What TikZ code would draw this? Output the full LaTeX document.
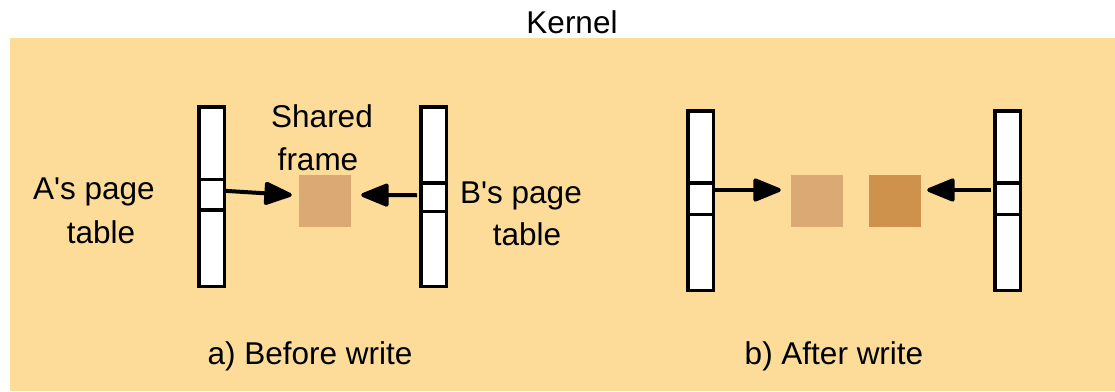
\documentclass[tikz,border=0pt]{standalone}
\usepackage{fontspec}
\setmainfont{Liberation Sans}
\usetikzlibrary{arrows.meta}
\definecolor{bgc}{RGB}{253,219,153}
\definecolor{framea}{RGB}{218,169,116}
\definecolor{frameb}{RGB}{206,146,76}
\tikzset{
  txt/.style={inner sep=0pt, anchor=base, font=\fontsize{31.5}{38}\selectfont},
  ptable/.style={draw=black, fill=white, line width=3.5pt, minimum width=25.5pt, minimum height=179.5pt, inner sep=0pt},
  pcell/.style={draw=black, line width=3.5pt, minimum width=25.5pt, inner sep=0pt},
  pframe/.style={minimum width=52pt, minimum height=52pt, inner sep=0pt},
  arr/.style={line width=4pt, -{Triangle[length=31pt,width=24pt,round]}}
}
\begin{document}
\begin{tikzpicture}[x=1pt,y=-1pt]
\useasboundingbox (0,0) rectangle (1115,391);
\fill[bgc] (10,38) rectangle (1115,391);
\node[txt] (kernel) at (572,33) {Kernel};
% a) before write
\node[ptable] (tabA) at (211.5,196.5) {};
\node[pcell, minimum height=30.5pt] (cellA) at (211.5,194.75) {};
\node[ptable] (tabB) at (433.5,196.5) {};
\node[pcell, minimum height=28.5pt] (cellB) at (433.5,197.25) {};
\node[pframe, fill=framea] (frameA) at (325,201) {};
\draw[arr] ([shift={(-2,-4)}]cellA.east) -- ([shift={(-7,-6)}]frameA.west);
\draw[arr] ([shift={(-2,-2)}]cellB.west) -- ([shift={(10,-6)}]frameA.east);
\node[txt] (sh1) at (322,127) {Shared};
\node[txt] (sh2) at (318,170) {frame};
\node[txt] (ap1) at (94,199) {A\textquotesingle s page};
\node[txt] (ap2) at (101,243) {table};
\node[txt] (bp1) at (521,203) {B\textquotesingle s page};
\node[txt] (bp2) at (527,245) {table};
\node[txt] (capa) at (310,364) {a) Before write};
% b) after write
\node[ptable] (tabC) at (700.5,200.5) {};
\node[pcell, minimum height=31.5pt] (cellC) at (700.5,198.75) {};
\node[ptable] (tabD) at (1007.5,200.5) {};
\node[pcell, minimum height=31.5pt] (cellD) at (1007.5,198.75) {};
\node[pframe, fill=framea] (frameB1) at (817,201) {};
\node[pframe, fill=frameb] (frameB2) at (895,201) {};
\draw[arr] ([shift={(-2,-8.75)}]cellC.east) -- ([shift={(-10,-11)}]frameB1.west);
\draw[arr] ([shift={(-2,-8.75)}]cellD.west) -- ([shift={(6,-11)}]frameB2.east);
\node[txt] (capb) at (834,364) {b) After write};
\end{tikzpicture}
\end{document}
